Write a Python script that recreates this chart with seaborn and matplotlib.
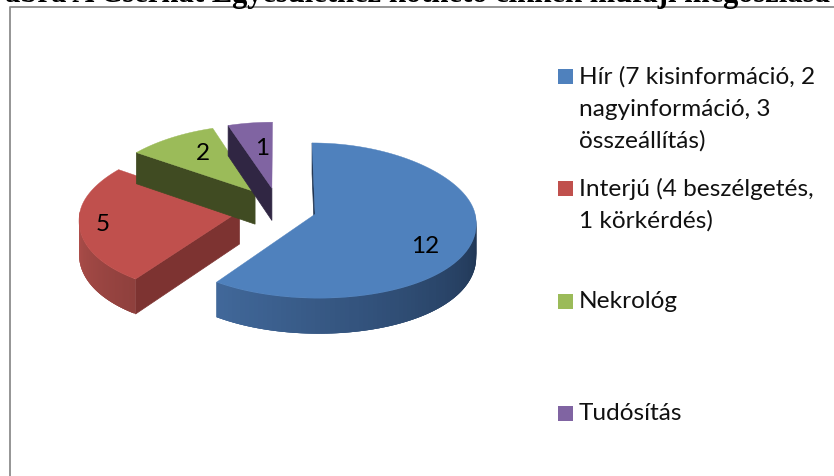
import numpy as np
import seaborn as sns
import matplotlib.pyplot as plt

# Adatok
labels = ['Hír (7 kisinformáció, 2\nnagyinformáció, 3\nösszeállítás)',
          'Interjú (4 beszélgetés,\n1 körkérdés)',
          'Nekrológ',
          'Tudósítás']
values = [12, 5, 2, 1]
title = 'ábra A Cserhát Egyesülethez köthető cikkek műfaji megoszlása'

top_colors = ['#4f81bd', '#c0504d', '#9bbb59', '#8064a2']
face_colors = ['#1f3350', '#7d3331', '#404b22', '#302643']
rim_colors = [('#1e3350', '#41689a'), ('#8f403d', '#b04f4b'),
              ('#404b22', '#404b22'), ('#302643', '#302643')]

# Geometry of the fake 3D pie, in pixels
CX, CY = 278, 209
EXPLODE_X, EXPLODE_Y = 39, 20
RX, RY_BACK, RY_FRONT = 160, 66, 84
DEPTH = 33
PERSP = 0.00115

sns.set_theme(style='white')
plt.rcParams['font.family'] = ['Lato', 'DejaVu Sans']


def project(ax0, ay0, theta):
    # theta is clockwise from 12 o'clock, in degrees
    t = np.radians(theta)
    c = np.cos(t)
    ry = np.where(c > 0, RY_BACK + (ay0 - 189) * 0.2, RY_FRONT)
    x = ax0 + RX * np.sin(t)
    y = ay0 - ry * c
    s = 1 + PERSP * (y - 215)
    return CX + (x - CX) * s, y


def depth_at(y):
    return DEPTH + 0.03 * (y - 215)


def draw_slice(ax, start, end, i):
    mid = np.radians((start + end) / 2)
    ax0 = CX + EXPLODE_X * np.sin(mid)
    ay0 = CY - EXPLODE_Y * np.cos(mid)
    z = i * 3 + 2

    # cut face on the start edge
    ex, ey = project(ax0, ay0, start)
    face = [(ax0, ay0), (float(ex), float(ey)),
            (float(ex), float(ey + depth_at(ey))), (ax0, ay0 + depth_at(ay0))]
    ax.fill(*zip(*face), color=face_colors[i], lw=0.5, zorder=z)

    # outer rim, only the part turned to the viewer
    lo, hi = max(start, 90), min(end, 270)
    if hi > lo:
        steps = np.linspace(lo, hi, 80)
        pal = sns.blend_palette(rim_colors[i], len(steps) - 1)
        # strips overlap the next one so no seams show
        for k in range(len(steps) - 1):
            k2 = min(k + 3, len(steps) - 1)
            x1, y1 = project(ax0, ay0, steps[k])
            x2, y2 = project(ax0, ay0, steps[k2])
            xs = [x1, x2, x2, x1]
            ys = [y1, y2, y2 + depth_at(y2), y1 + depth_at(y1)]
            ax.fill(xs, ys, color=pal[k], lw=0, zorder=z + 1)

    # top
    th = np.linspace(start, end, 120)
    x, y = project(ax0, ay0, th)
    ax.fill(np.r_[ax0, x], np.r_[ay0, y], color=top_colors[i], lw=0.3, zorder=z + 2)


fig = plt.figure(figsize=(8.34, 4.77), dpi=100, facecolor='white')
ax = fig.add_axes([0, 0, 1, 1])
ax.set_xlim(0, 834)
ax.set_ylim(477, 0)
ax.axis('off')

# Frame of the embedded chart and the cut off caption above it
ax.plot([10.5, 10.5, 834], [477, 8, 8], color='#8c8c8c', lw=1.3, zorder=1)
ax.text(5, 2, title, family='Liberation Serif', fontweight='bold', fontsize=22,
        ha='left', va='baseline', color='black')

edges = np.cumsum([0] + values) / sum(values) * 360
for i in reversed(range(len(values))):
    draw_slice(ax, edges[i], edges[i + 1], i)

# Data labels
label_xy = [(425, 247), (103, 225), (203, 154), (262, 149)]
for v, (lx, ly) in zip(values, label_xy):
    ax.text(lx, ly, str(v), fontsize=17.5, ha='center', va='center', color='black', zorder=30)

# Legend
legend_y = [77, 189, 302, 414]
for lab, col, ly in zip(labels, top_colors, legend_y):
    ax.fill([558, 573, 573, 558], [ly - 7.5, ly - 7.5, ly + 7.5, ly + 7.5], color=col, lw=0)
    for n, line in enumerate(lab.split('\n')):
        ax.text(579, ly + n * 32, line, fontsize=17.6, ha='left', va='center', color='#111111')

plt.savefig('out.png', dpi=100)
plt.close()
